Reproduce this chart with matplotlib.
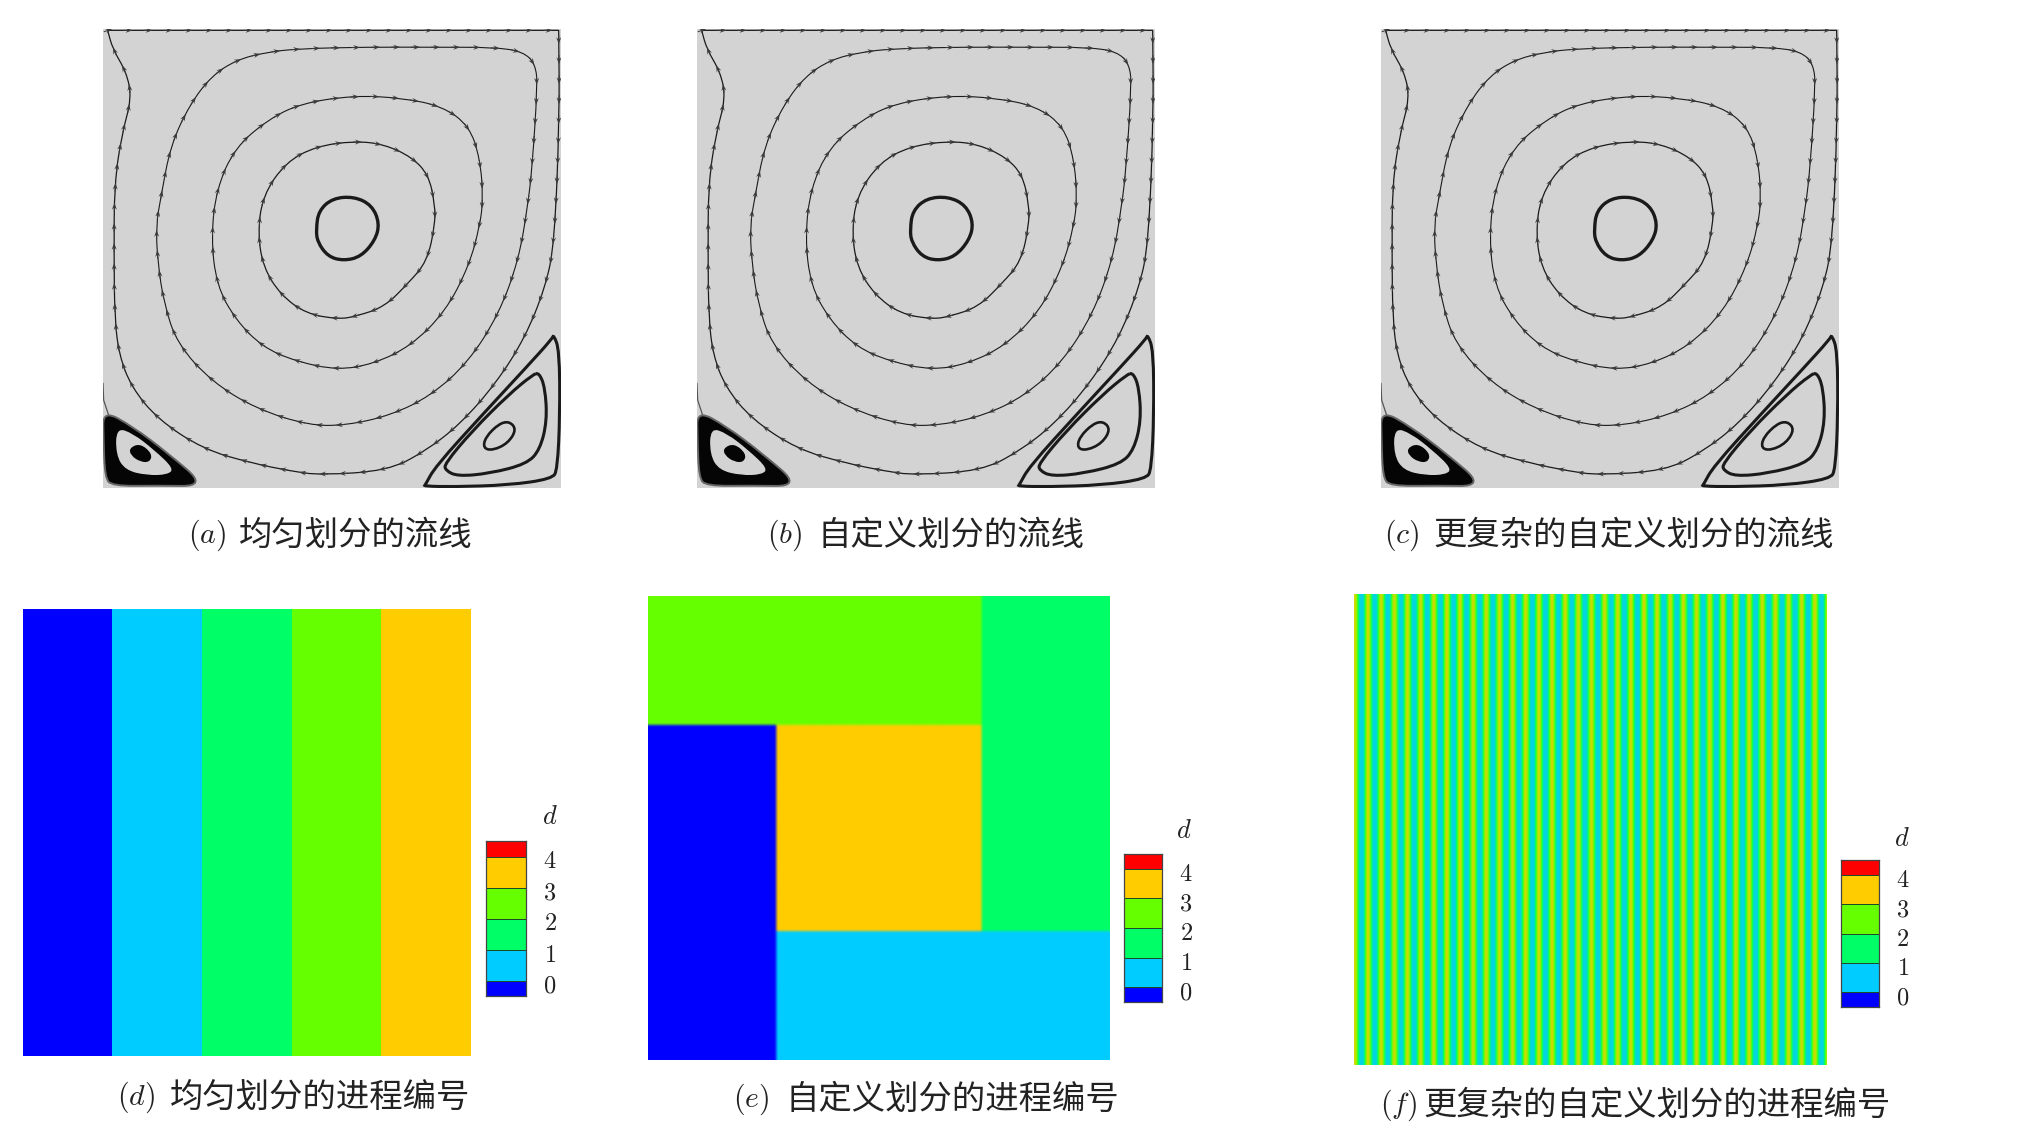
import numpy as np
from matplotlib import pyplot as plt
from matplotlib.colors import BoundaryNorm, LinearSegmentedColormap, ListedColormap, to_rgb
from matplotlib.patches import PathPatch
from matplotlib.path import Path

WIDTH, HEIGHT = 2032, 1145
INK = "#1a1a1a"

plt.rcParams["font.family"] = ["Noto Sans CJK SC", "DejaVu Sans"]
plt.rcParams["mathtext.fontset"] = "cm"

# streamlines in its own picture units
ring_core = [(680, 625), (690, 575), (730, 540), (790, 535), (840, 560), (862, 610), (850, 660),
             (810, 705), (760, 718), (715, 705), (685, 665)]
ring_inner = [(508, 640), (525, 530), (590, 435), (680, 385), (790, 368), (880, 378), (960, 415),
              (1010, 470), (1030, 550), (1030, 620), (1005, 720), (950, 790), (880, 855), (800, 885),
              (740, 893), (650, 875), (575, 820), (525, 740)]
ring_mid = [(368, 650), (385, 510), (440, 390), (535, 305), (640, 255), (790, 232), (930, 238),
            (1050, 265), (1130, 325), (1165, 420), (1175, 530), (1165, 620), (1130, 740), (1060, 870),
            (960, 970), (850, 1025), (740, 1043), (620, 1020), (520, 975), (440, 895), (385, 790)]
ring_wide = [(200, 620), (215, 520), (245, 380), (300, 260), (365, 175), (440, 125), (530, 100),
             (640, 88), (830, 83), (1030, 83), (1200, 85), (1290, 100), (1330, 140), (1338, 220),
             (1325, 430), (1310, 560), (1280, 720), (1220, 880), (1130, 1020), (1020, 1120), (900, 1180),
             (770, 1210), (650, 1208), (500, 1160), (370, 1080), (270, 970), (225, 850), (205, 730)]
ring_outer = [(52, 32), (52, 32), (1405, 32), (1405, 32), (1405, 300), (1390, 640), (1360, 800),
              (1300, 950), (1215, 1085), (1110, 1205), (1000, 1290), (880, 1345), (700, 1360), (600, 1350),
              (480, 1325), (340, 1280), (210, 1195), (130, 1100), (90, 1000), (75, 880), (72, 700),
              (75, 500), (95, 350), (118, 240), (105, 160), (70, 90)]
wall_left = [(38, 1090), (40, 1140), (55, 1185)]

eddy_left_outer = [(50, 1188), (130, 1225), (230, 1300), (315, 1385), (200, 1394), (80, 1392),
                   (48, 1360), (42, 1260)]
eddy_left_hole = [(85, 1235), (130, 1245), (190, 1290), (240, 1340), (225, 1360), (170, 1362),
                  (110, 1345), (82, 1300)]
eddy_left_core = [(122, 1285), (150, 1275), (180, 1300), (175, 1322), (150, 1322), (125, 1305)]

eddy_right_outer = [(1390, 955), (1405, 1010), (1407, 1180), (1398, 1330), (1370, 1372), (1250, 1392),
                    (1100, 1398), (1015, 1396), (1012, 1385), (1050, 1325), (1180, 1180), (1300, 1050),
                    (1375, 968)]
eddy_right_mid = [(1345, 1066), (1362, 1110), (1366, 1200), (1345, 1282), (1300, 1328), (1200, 1356),
                  (1110, 1364), (1072, 1348), (1075, 1320), (1150, 1230), (1250, 1130), (1320, 1072)]
eddy_right_core = [(1255, 1208), (1272, 1230), (1250, 1266), (1210, 1286), (1184, 1280), (1190, 1250),
                   (1225, 1215)]

# process colours and the two block layouts
level_colors = ["#0000ff", "#00ccff", "#00ff66", "#66ff00", "#ffcc00", "#ff0000"]
bar_edges = [-0.5, 0, 1, 2, 3, 4, 4.5]
bar_ticks = [0, 1, 2, 3, 4]

uniform_ranks = [[0, 1, 2, 3, 4]]
custom_ranks = [[3, 3, 2], [0, 4, 2], [0, 1, 1]]
custom_rows = [25, 40, 25]
custom_cols = [25, 40, 25]
stripe_period = [3.7, 3.6, 3.3, 2.7, 2.0, 1.4, 1.2, 1.2, 1.2, 1.4, 2.0, 2.7, 3.3]
stripe_repeats = 36

stream_boxes = [(103, 29, 561, 488), (697, 29, 1155, 488), (1381, 29, 1839, 488)]
field_boxes = [(23, 609, 471, 1056), (648, 596, 1110, 1060), (1354, 594, 1826, 1065)]
bar_boxes = [(486, 841, 526, 996), (1124, 854, 1162, 1002), (1841, 860, 1879, 1007)]
bar_titles = [(550, 817), (1184, 831), (1902, 838)]

captions = [
    ("(a)", "均匀划分的流线", 188, 356, 535),
    ("(b)", "自定义划分的流线", 767, 951, 535),
    ("(c)", "更复杂的自定义划分的流线", 1384, 1634, 535),
    ("(d)", "均匀划分的进程编号", 117, 320, 1097),
    ("(e)", "自定义划分的进程编号", 733, 952, 1099),
    ("(f)", "更复杂的自定义划分的进程编号", 1380, 1657, 1105),
]

fig = plt.figure(figsize=(WIDTH / 100, HEIGHT / 100), dpi=100, facecolor="white")


def pixel_axes(box):
    x0, y0, x1, y1 = box
    return fig.add_axes([x0 / WIDTH, 1 - y1 / HEIGHT, (x1 - x0) / WIDTH, (y1 - y0) / HEIGHT])


def closed_curve(points):
    # quadratic spline, controls pushed out so it runs through the read points
    pts = np.array(points, dtype=float)
    prev_pts, next_pts = np.roll(pts, 1, axis=0), np.roll(pts, -1, axis=0)
    ctrl = pts + (2 * pts - prev_pts - next_pts) / 6
    sharp = (pts == prev_pts).all(axis=1) | (pts == next_pts).all(axis=1)
    ctrl[sharp] = pts[sharp]
    mids = (ctrl + np.roll(ctrl, -1, axis=0)) / 2
    verts = [mids[-1]]
    codes = [Path.MOVETO]
    for i in range(len(ctrl)):
        verts += [ctrl[i], mids[i]]
        codes += [Path.CURVE3, Path.CURVE3]
    return Path(verts, codes)


def add_arrows(ax, path, spacing):
    line = path.to_polygons(closed_only=False)[0]
    steps = np.hypot(*np.diff(line, axis=0).T)
    dist = np.r_[0, np.cumsum(steps)]
    spots = np.arange(spacing / 2, dist[-1], spacing)
    x = np.interp(spots, dist, line[:, 0])
    y = np.interp(spots, dist, line[:, 1])
    dx = np.interp(spots + 2, dist, line[:, 0]) - np.interp(spots - 2, dist, line[:, 0])
    dy = np.interp(spots + 2, dist, line[:, 1]) - np.interp(spots - 2, dist, line[:, 1])
    size = np.hypot(dx, dy)
    size[size == 0] = 1
    ax.quiver(x, y, dx / size, dy / size, angles="xy", pivot="mid", units="dots", width=1,
              scale_units="dots", scale=1 / 9, headwidth=5, headlength=7, headaxislength=5,
              color="#3a3a3a", zorder=3)


def draw_streamlines(box):
    ax = pixel_axes(box)
    ax.set_xlim(38, 1412)
    ax.set_ylim(1403, 28)
    ax.set_facecolor("#d3d3d3")
    ax.set_xticks([])
    ax.set_yticks([])
    for spine in ax.spines.values():
        spine.set_visible(False)

    for points, lw in [(ring_core, 2.4), (ring_inner, 0.9), (ring_mid, 0.8), (ring_wide, 0.8),
                       (ring_outer, 0.9), (eddy_right_outer, 2.2), (eddy_right_mid, 2.2),
                       (eddy_right_core, 1.9)]:
        path = closed_curve(points)
        ax.add_patch(PathPatch(path, fc="none", ec=INK, lw=lw, zorder=2))
        if lw < 1.5:
            add_arrows(ax, path, 60)

    ax.plot(*zip(*wall_left), color="#555555", lw=0.9)
    ax.add_patch(PathPatch(closed_curve(eddy_left_outer), fc="#050505", ec="#666666", lw=1.4, zorder=2))
    ax.add_patch(PathPatch(closed_curve(eddy_left_hole), fc="#d3d3d3", ec="none", zorder=2))
    ax.add_patch(PathPatch(closed_curve(eddy_left_core), fc="#050505", ec="none", zorder=2))


def rgb_blocks(ranks, rows, cols):
    lut = np.array([to_rgb(c) for c in level_colors])
    grid = np.repeat(np.repeat(np.array(ranks), rows, axis=0), cols, axis=1)
    return lut[grid]


def draw_fields():
    ax = pixel_axes(field_boxes[0])
    ax.imshow(np.array(uniform_ranks), cmap=ListedColormap(level_colors[:5]), vmin=-0.5, vmax=4.5,
              aspect="auto", interpolation="nearest")
    ax.axis("off")

    ax = pixel_axes(field_boxes[1])
    ax.imshow(rgb_blocks(custom_ranks, custom_rows, custom_cols), aspect="auto", interpolation="hanning")
    ax.axis("off")

    ax = pixel_axes(field_boxes[2])
    stripes = np.tile(stripe_period, stripe_repeats)[np.newaxis, :]
    blend = LinearSegmentedColormap.from_list("ranks", level_colors[:5])
    ax.imshow(stripes, cmap=blend, vmin=0, vmax=4, aspect="auto", interpolation="bilinear")
    ax.axis("off")


def draw_bar(box, title):
    ax = pixel_axes(box)
    cmap = ListedColormap(level_colors)
    norm = BoundaryNorm(bar_edges, cmap.N)
    centers = (np.array(bar_edges[:-1]) + np.array(bar_edges[1:])) / 2
    ax.pcolormesh([0, 1], bar_edges, centers[:, np.newaxis], cmap=cmap, norm=norm,
                  edgecolors="#1f4a2a", linewidth=0.5)
    ax.set_xticks([])
    ax.set_yticks([])
    ax.set_ylim(bar_edges[0], bar_edges[-1])
    for spine in ax.spines.values():
        spine.set_color("#444444")
        spine.set_linewidth(0.9)
    for level in bar_ticks:
        ax.annotate(f"${level}$", xy=(1, level), xycoords=("axes fraction", "data"), xytext=(24, -5),
                    textcoords="offset pixels", ha="center", va="center", fontsize=17.5, color="#222222")
    fig.text(title[0] / WIDTH, 1 - title[1] / HEIGHT, "$d$", ha="center", va="center",
             fontsize=19, color="#222222")


for box in stream_boxes:
    draw_streamlines(box)
draw_fields()
for box, title in zip(bar_boxes, bar_titles):
    draw_bar(box, title)

for tag, words, tag_x, words_x, y in captions:
    fig.text(tag_x / WIDTH, 1 - y / HEIGHT, f"${tag}$", ha="left", va="center", fontsize=21.5, color="#222222")
    fig.text(words_x / WIDTH, 1 - y / HEIGHT, words, ha="center", va="center", fontsize=24, color="#222222")

fig.savefig("out.png", dpi=100)
